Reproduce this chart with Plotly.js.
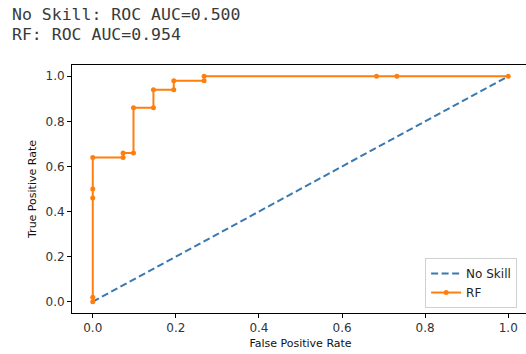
<!DOCTYPE html>
<html><head><meta charset="utf-8">
<script src="https://cdn.plot.ly/plotly-3.0.1.min.js"></script>
<style>html,body{margin:0;padding:0;overflow:hidden;background:#fff;width:526px;height:354px}</style>
</head><body><div id="chart"></div>
<script>
const noSkillFpr = [0, 1];
const noSkillTpr = [0, 1];
const rfFpr = [0, 0, 0, 0, 0, 0.073, 0.073, 0.098, 0.098, 0.146, 0.146, 0.195, 0.195, 0.268, 0.268, 0.683, 0.732, 1.0];
const rfTpr = [0, 0.02, 0.46, 0.50, 0.64, 0.64, 0.66, 0.66, 0.86, 0.86, 0.94, 0.94, 0.98, 0.98, 1.0, 1.0, 1.0, 1.0];
const outputLines = ["No Skill: ROC AUC=0.500", "RF: ROC AUC=0.954"];
const xTicks = [0, 0.2, 0.4, 0.6, 0.8, 1.0];
const yTicks = [0, 0.2, 0.4, 0.6, 0.8, 1.0];

const traces = [
  {x: noSkillFpr, y: noSkillTpr, mode: 'lines', name: 'No Skill',
   line: {color: '#3a78b0', width: 2, dash: '7px,3.5px'}},
  {x: rfFpr, y: rfTpr, mode: 'lines+markers', name: 'RF',
   line: {color: '#ff7f0e', width: 2}, marker: {color: '#ff7f0e', size: 5}}
];
const axisCommon = {
  showline: true, mirror: true, linecolor: '#000', linewidth: 1,
  ticks: 'outside', ticklen: 4, tickcolor: '#000', tickwidth: 1,
  showgrid: false, zeroline: false,
  tickfont: {family: 'DejaVu Sans', size: 12, color: '#333'},
  tickformat: '.1f'
};
const layout = {
  width: 540, height: 354,
  margin: {l: 72, r: 11, t: 65, b: 41},
  paper_bgcolor: '#fff', plot_bgcolor: '#fff',
  showlegend: true,
  legend: {x: 0.974, xanchor: 'right', y: 0.02, yanchor: 'bottom',
    bgcolor: 'rgba(255,255,255,0.9)', bordercolor: '#d0d0d0', borderwidth: 1,
    font: {family: 'DejaVu Sans', size: 12, color: '#222'}, tracegroupgap: 0},
  xaxis: Object.assign({}, axisCommon, {range: [-0.05, 1.05], tickvals: xTicks,
    title: {text: 'False Positive Rate', standoff: 4, font: {family: 'DejaVu Sans', size: 11, color: '#111'}}}),
  yaxis: Object.assign({}, axisCommon, {range: [-0.05, 1.05], tickvals: yTicks,
    title: {text: 'True Positive Rate', standoff: 6, font: {family: 'DejaVu Sans', size: 11, color: '#111'}}}),
  annotations: outputLines.map((t, i) => ({
    text: t, xref: 'paper', yref: 'paper', x: -0.1357, xanchor: 'left',
    y: i === 0 ? 1.2056 : 1.125, yanchor: 'middle', showarrow: false,
    font: {family: 'DejaVu Sans Mono', size: 16.5, color: '#3a3a3a'}
  }))
};
Plotly.newPlot('chart', traces, layout, {displayModeBar: false, staticPlot: true});
</script></body></html>
